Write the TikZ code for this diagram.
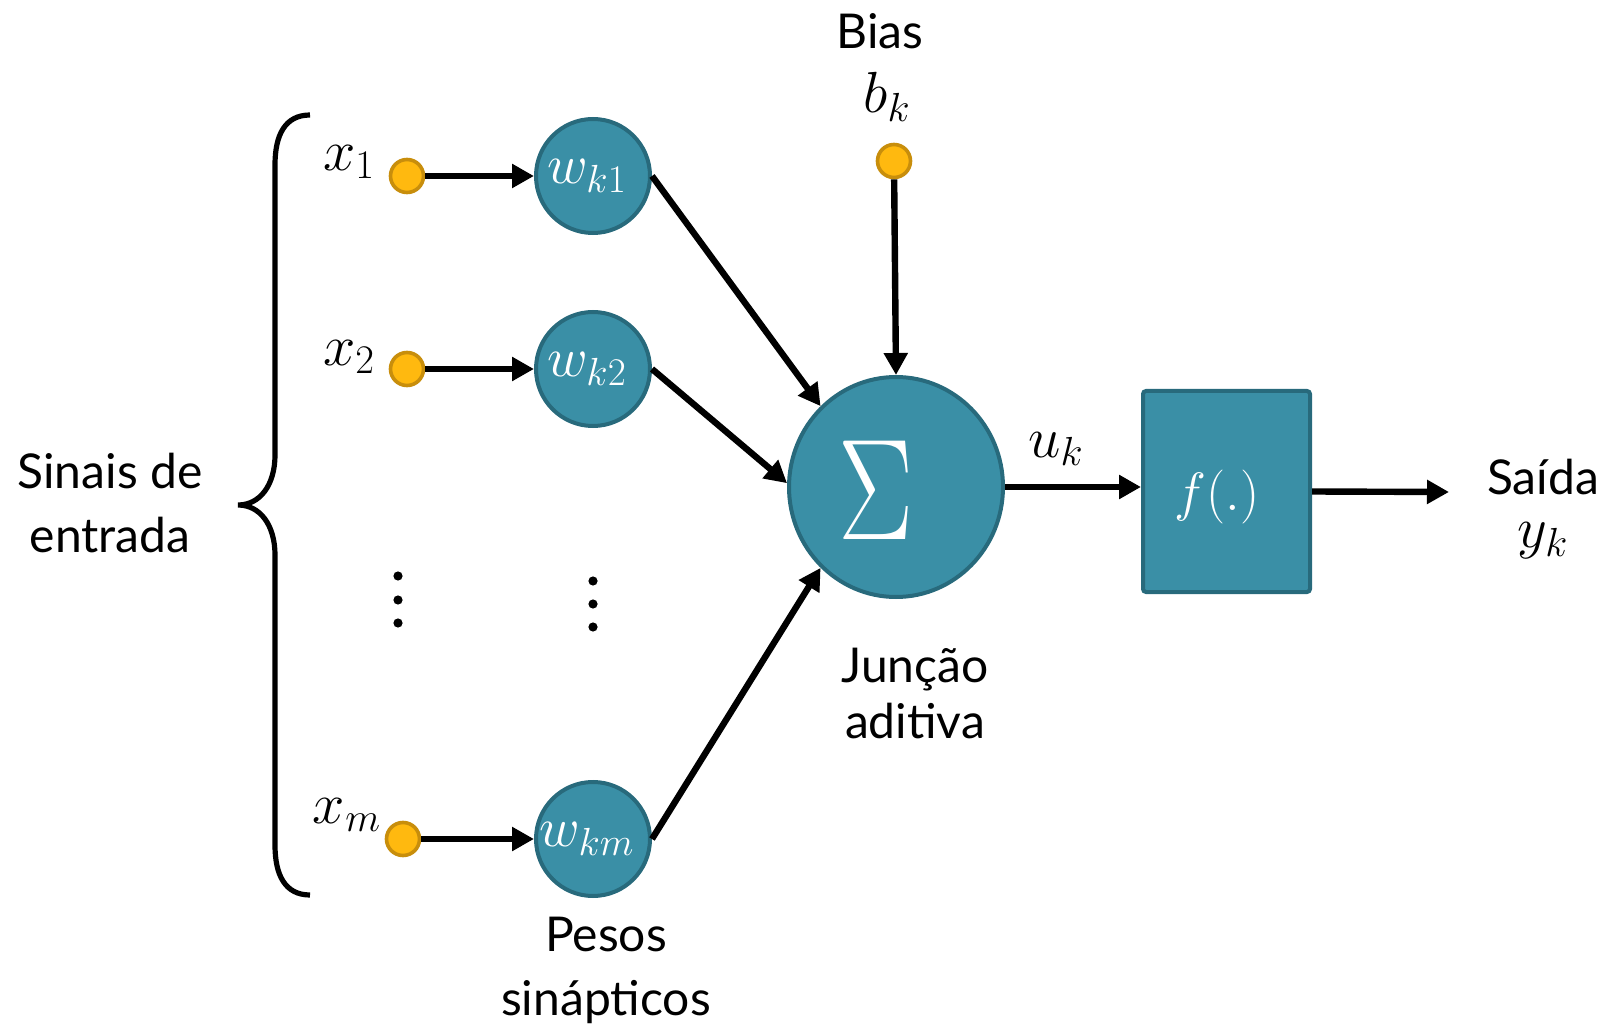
\documentclass[tikz,border=0pt]{standalone}
\usepackage{fix-cm}
\usepackage{fontspec}
\setmainfont{Lato}
\usetikzlibrary{arrows.meta,shapes.geometric}

\definecolor{neuronfill}{RGB}{58,143,166}
\definecolor{neuronline}{RGB}{40,106,124}
\definecolor{dotfill}{RGB}{255,185,15}
\definecolor{dotline}{RGB}{200,142,12}

\begin{document}
\begin{tikzpicture}[x=0.5pt,y=-0.5pt,
  weight/.style={circle, draw=neuronline, fill=neuronfill, line width=2pt,
    minimum size=57pt, inner sep=0pt, text=white, font=\fontsize{28}{28}\selectfont},
  summer/.style={ellipse, draw=neuronline, fill=neuronfill, line width=2pt,
    minimum width=107pt, minimum height=110pt, inner sep=0pt},
  actbox/.style={rectangle, rounded corners=1.5pt, draw=neuronline, fill=neuronfill,
    line width=2pt, minimum width=83.5pt, minimum height=100.5pt, inner sep=0pt},
  inputdot/.style={circle, draw=dotline, fill=dotfill, line width=1.8pt,
    minimum size=16.5pt, inner sep=0pt},
  link/.style={line width=3.2pt, -{Triangle[length=11pt,width=11.5pt]}},
  caption/.style={font=\fontsize{24}{32}\selectfont, align=center, inner sep=0pt},
  mathlbl/.style={font=\fontsize{29}{29}\selectfont, inner sep=0pt},
  inner/.style={text=white, inner sep=0pt}
]
\useasboundingbox (0,0) rectangle (1608,1032);

% input terminals
\node[inputdot] (x1) at (407,176) {};
\node[inputdot] (x2) at (407,369) {};
\node[inputdot] (xm) at (403,839) {};
\node[inputdot] (b)  at (894,161) {};

% synaptic weights
\node[weight] (w1) at (593,176) {\hspace*{-6pt}$w_{k1}$};
\node[weight] (w2) at (593,369) {\hspace*{-6pt}$w_{k2}$};
\node[weight] (wm) at (593,839) {\hspace*{-6pt}$w_{km}$};

% summing junction and activation function
\node[summer] (sig) at (896,487) {};
\node[inner] (sigma) at (876,490)
  {\fontsize{72}{72}\selectfont\scalebox{0.78}[1]{$\Sigma$}};
\node[actbox] (box) at (1226.5,491.5) {};
\node[inner, font=\fontsize{27}{27}\selectfont] (fx) at (1217,497) {$f(.)$};
\coordinate (out) at (1449,492);

% labels
\node[mathlbl] (lx1) at (349,162) {$x_1$};
\node[mathlbl] (lx2) at (349,357) {$x_2$};
\node[mathlbl] (lxm) at (347,815) {$x_m$};
\node[caption] (lbias) at (880,31) {Bias};
\node[mathlbl] (lb) at (887,97) {$b_k$};
\node[mathlbl] (lu) at (1056,449) {$u_k$};
\node[caption] (lout) at (1543,477) {Saída};
\node[mathlbl] (ly) at (1543,541) {$y_k$};
\node[caption] (lin) at (110,503) {Sinais de\\entrada};
\node[caption, font=\fontsize{24}{28}\selectfont] (lsum) at (915,693) {Junção\\aditiva};
\node[caption] (lw) at (606,970) {Pesos\\sinápticos};

% vertical ellipses
\foreach \yy in {576,600,623} \fill (398,\yy) circle (2.3pt);
\foreach \yy in {581,604,627} \fill (593,\yy) circle (2.3pt);

% input brace
\draw[line width=2.6pt] (310,115) .. controls (285,115) and (275,135) .. (275,165)
  -- (275,455) .. controls (275,485) and (260,505) .. (238,505)
  .. controls (260,505) and (275,525) .. (275,555)
  -- (275,845) .. controls (275,875) and (285,895) .. (310,895);

% connectors
\draw[link] (x1) -- (w1);
\draw[link] (x2) -- (w2);
\draw[link] (xm) -- (wm);
\draw[link] (w1.east) -- (sig.133);
\draw[link] (w2.east) -- (sig.178);
\draw[link] (wm.east) -- (sig.227);
\draw[link] (b) -- (sig.north);
\draw[link] (sig.east) -- (sig.east -| box.west);
\draw[link] (box.east) -- (out);
\end{tikzpicture}
\end{document}
